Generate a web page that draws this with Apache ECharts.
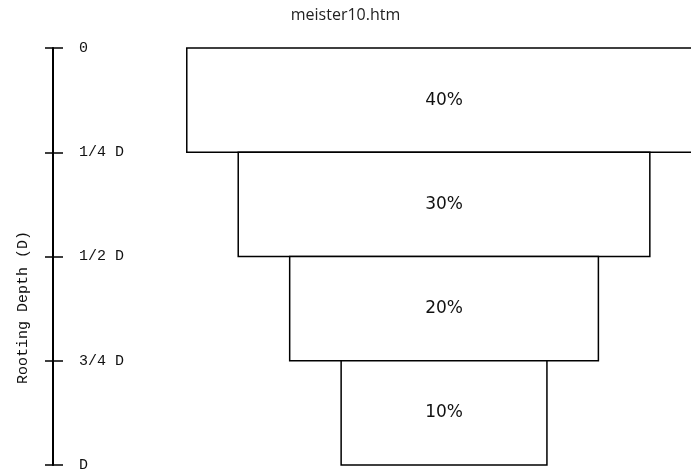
<!DOCTYPE html>
<html>
<head>
<meta charset="utf-8">
<script src="https://cdn.jsdelivr.net/npm/echarts@6/dist/echarts.min.js"></script>
<style>
  html, body { margin: 0; padding: 0; background: #fff; }
  #main { width: 691px; height: 473px; }
</style>
</head>
<body>
<div id="main"></div>
<script>
// depth tick labels (fraction of rooting depth D)
var depthLabels = ['0', '1/4 D', '1/2 D', '3/4 D', 'D'];
// each layer: start depth, end depth, relative half width, share of water uptake
var depthFrom = [0, 0.25, 0.5, 0.75];
var depthTo = [0.25, 0.5, 0.75, 1];
var halfWidth = [2.5, 2, 1.5, 1];
var shares = [40, 30, 20, 10];

var chartDom = document.getElementById('main');
var myChart = echarts.init(chartDom);
var option;

var layers = [];
for (var i = 0; i < shares.length; i++) {
  layers.push([depthFrom[i], depthTo[i], halfWidth[i], shares[i]]);
}

option = {
  animation: false,
  backgroundColor: '#fff',
  title: {
    text: 'meister10.htm',
    left: 'center',
    top: 2,
    textStyle: {
      fontFamily: 'Open Sans',
      fontSize: 16,
      fontWeight: 'normal',
      color: '#222'
    }
  },
  grid: {
    left: 53,
    right: 0,
    top: 48,
    bottom: 8
  },
  xAxis: {
    type: 'value',
    min: -3.8,
    max: 2.4,
    show: false
  },
  yAxis: [
    {
      type: 'value',
      inverse: true,
      min: 0,
      max: 1,
      interval: 0.25,
      position: 'left',
      axisLine: { show: true, onZero: false, lineStyle: { color: '#000', width: 2 } },
      axisTick: { show: true, inside: true, length: 10, lineStyle: { color: '#000', width: 1.5 } },
      axisLabel: {
        inside: true,
        margin: 26,
        fontFamily: 'Liberation Mono',
        fontSize: 15,
        color: '#111',
        formatter: function (v) {
          return depthLabels[Math.round(v * 4)];
        }
      },
      splitLine: { show: false }
    },
    {
      type: 'value',
      inverse: true,
      min: 0,
      max: 1,
      interval: 0.25,
      position: 'left',
      name: 'Rooting Depth (D)',
      nameLocation: 'middle',
      nameRotate: 90,
      nameGap: 22,
      nameTextStyle: {
        fontFamily: 'Liberation Mono',
        fontSize: 15,
        color: '#111',
        padding: [0, 102, 0, 0]
      },
      axisLine: { show: false, onZero: false },
      axisTick: { show: true, length: 8, lineStyle: { color: '#000', width: 1.5 } },
      axisLabel: { show: false },
      splitLine: { show: false }
    }
  ],
  series: [
    {
      type: 'custom',
      data: layers,
      renderItem: function (params, api) {
        var tl = api.coord([-api.value(2), api.value(0)]);
        var br = api.coord([api.value(2), api.value(1)]);
        var mid = api.coord([0, (api.value(0) + api.value(1)) / 2]);
        return {
          type: 'group',
          children: [
            {
              type: 'rect',
              shape: { x: tl[0], y: tl[1], width: br[0] - tl[0], height: br[1] - tl[1] },
              style: { fill: '#fff', stroke: '#000', lineWidth: 1.5 }
            },
            {
              type: 'text',
              x: mid[0],
              y: mid[1],
              style: {
                text: api.value(3) + '%',
                align: 'center',
                verticalAlign: 'middle',
                fontFamily: 'DejaVu Sans',
                fontSize: 17,
                fill: '#111'
              }
            }
          ]
        };
      }
    }
  ]
};

option && myChart.setOption(option);
</script>
</body>
</html>
